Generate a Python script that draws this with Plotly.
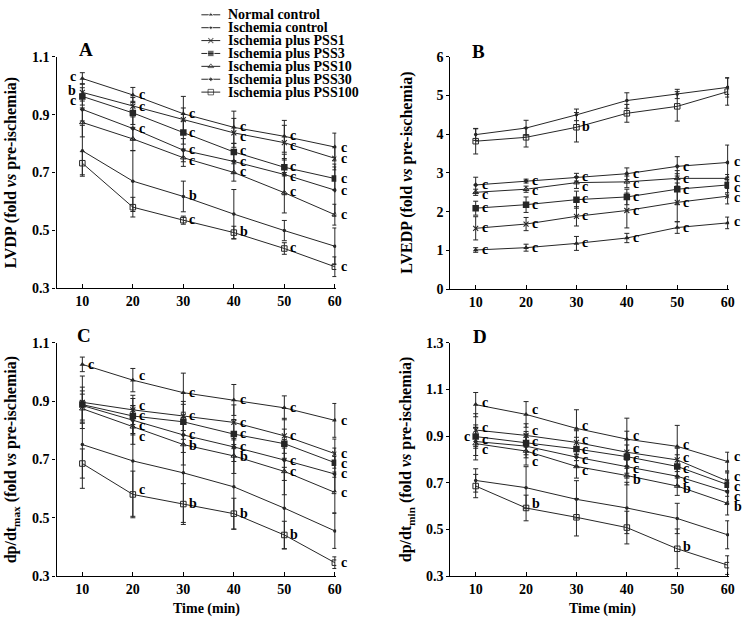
import plotly.graph_objects as go

# ---------------- data ----------------
TIME = [10, 20, 30, 40, 50, 60]
SERIES = ["Normal control", "Ischemia control", "Ischemia plus PSS1", "Ischemia plus PSS3",
          "Ischemia plus PSS10", "Ischemia plus PSS30", "Ischemia plus PSS100"]
KEYS = ["normal", "isch", "pss1", "pss3", "pss10", "pss30", "pss100"]

# Panel A: LVDP
A_NORMAL = [1.025, 0.968, 0.903, 0.856, 0.825, 0.788]
A_ISCH = [0.775, 0.670, 0.617, 0.556, 0.499, 0.445]
A_PSS1 = [0.977, 0.929, 0.883, 0.837, 0.803, 0.749]
A_PSS3 = [0.963, 0.906, 0.838, 0.771, 0.718, 0.679]
A_PSS10 = [0.873, 0.816, 0.751, 0.700, 0.630, 0.554]
A_PSS30 = [0.918, 0.852, 0.777, 0.738, 0.693, 0.639]
A_PSS100 = [0.732, 0.580, 0.535, 0.492, 0.437, 0.374]
A_NORMAL_SD = [0.020, 0.026, 0.060, 0.056, 0.055, 0.048]
A_ISCH_SD = [0.088, 0.105, 0.053, 0.085, 0.035, 0.063]
A_PSS1_SD = [0.030, 0.030, 0.040, 0.050, 0.060, 0.040]
A_PSS3_SD = [0.030, 0.040, 0.040, 0.030, 0.030, 0.040]
A_PSS10_SD = [0.050, 0.040, 0.030, 0.030, 0.070, 0.036]
A_PSS30_SD = [0.040, 0.040, 0.040, 0.040, 0.070, 0.090]
A_PSS100_SD = [0.040, 0.034, 0.014, 0.022, 0.020, 0.034]
A_NORMAL_SIG = ["c", "c", "c", "c", "c", "c"]
A_ISCH_SIG = ["", "", "b", "", "", ""]
A_PSS1_SIG = ["b", "c", "", "c", "c", "c"]
A_PSS3_SIG = ["c", "", "c", "c", "c", "c"]
A_PSS10_SIG = ["", "", "c", "c", "c", "c"]
A_PSS30_SIG = ["", "c", "c", "c", "c", "c"]
A_PSS100_SIG = ["", "", "c", "b", "c", "c"]

# Panel B: LVEDP
B_NORMAL = [1.01, 1.07, 1.18, 1.32, 1.59, 1.71]
B_ISCH = [3.99, 4.16, 4.50, 4.87, 5.04, 5.21]
B_PSS1 = [1.57, 1.68, 1.88, 2.03, 2.24, 2.40]
B_PSS3 = [2.09, 2.18, 2.31, 2.38, 2.58, 2.69]
B_PSS10 = [2.50, 2.58, 2.75, 2.77, 2.86, 2.86]
B_PSS30 = [2.69, 2.79, 2.89, 2.98, 3.17, 3.27]
B_PSS100 = [3.82, 3.92, 4.18, 4.54, 4.72, 5.10]
B_NORMAL_SD = [0.06, 0.09, 0.18, 0.12, 0.15, 0.15]
B_ISCH_SD = [0.15, 0.20, 0.15, 0.20, 0.12, 0.25]
B_PSS1_SD = [0.30, 0.17, 0.25, 0.45, 0.50, 0.20]
B_PSS3_SD = [0.18, 0.20, 0.22, 0.20, 0.40, 0.20]
B_PSS10_SD = [0.08, 0.08, 0.15, 0.15, 0.20, 0.10]
B_PSS30_SD = [0.20, 0.05, 0.10, 0.15, 0.25, 0.45]
B_PSS100_SD = [0.33, 0.25, 0.38, 0.23, 0.38, 0.35]
B_NORMAL_SIG = ["c", "c", "c", "c", "c", "c"]
B_ISCH_SIG = ["", "", "", "", "", ""]
B_PSS1_SIG = ["c", "c", "c", "c", "c", "c"]
B_PSS3_SIG = ["c", "c", "c", "c", "c", "c"]
B_PSS10_SIG = ["c", "c", "c", "c", "c", "c"]
B_PSS30_SIG = ["c", "c", "c", "c", "c", "c"]
B_PSS100_SIG = ["", "", "b", "", "", ""]

# Panel C: dp/dt max
C_NORMAL = [1.026, 0.972, 0.929, 0.904, 0.877, 0.834]
C_ISCH = [0.751, 0.695, 0.654, 0.606, 0.533, 0.455]
C_PSS1 = [0.896, 0.870, 0.849, 0.827, 0.781, 0.720]
C_PSS3 = [0.888, 0.849, 0.829, 0.787, 0.754, 0.689]
C_PSS10 = [0.874, 0.812, 0.751, 0.712, 0.659, 0.587]
C_PSS30 = [0.885, 0.834, 0.784, 0.743, 0.698, 0.650]
C_PSS100 = [0.686, 0.580, 0.547, 0.514, 0.441, 0.346]
C_NORMAL_SD = [0.025, 0.040, 0.067, 0.053, 0.041, 0.058]
C_ISCH_SD = [0.150, 0.190, 0.170, 0.145, 0.140, 0.060]
C_PSS1_SD = [0.090, 0.050, 0.050, 0.060, 0.060, 0.050]
C_PSS3_SD = [0.060, 0.060, 0.060, 0.050, 0.050, 0.050]
C_PSS10_SD = [0.050, 0.060, 0.070, 0.060, 0.080, 0.070]
C_PSS30_SD = [0.050, 0.050, 0.060, 0.050, 0.070, 0.060]
C_PSS100_SD = [0.050, 0.080, 0.070, 0.053, 0.047, 0.020]
C_NORMAL_SIG = ["c", "c", "c", "c", "c", "c"]
C_ISCH_SIG = ["", "", "", "", "", ""]
C_PSS1_SIG = ["", "c", "c", "c", "c", "c"]
C_PSS3_SIG = ["", "c", "", "c", "", "c"]
C_PSS10_SIG = ["", "c", "b", "b", "c", "c"]
C_PSS30_SIG = ["", "c", "c", "c", "c", "c"]
C_PSS100_SIG = ["", "c", "b", "b", "b", "c"]

# Panel D: dp/dt min
D_NORMAL = [1.035, 0.993, 0.933, 0.887, 0.856, 0.791]
D_ISCH = [0.710, 0.679, 0.629, 0.592, 0.547, 0.477]
D_PSS1 = [0.926, 0.903, 0.873, 0.831, 0.798, 0.707]
D_PSS3 = [0.898, 0.870, 0.845, 0.812, 0.770, 0.692]
D_PSS10 = [0.868, 0.836, 0.770, 0.731, 0.686, 0.612]
D_PSS30 = [0.877, 0.857, 0.810, 0.770, 0.728, 0.661]
D_PSS100 = [0.686, 0.592, 0.552, 0.508, 0.417, 0.347]
D_NORMAL_SD = [0.052, 0.055, 0.080, 0.090, 0.090, 0.040]
D_ISCH_SD = [0.050, 0.090, 0.080, 0.110, 0.065, 0.060]
D_PSS1_SD = [0.070, 0.050, 0.050, 0.090, 0.050, 0.040]
D_PSS3_SD = [0.050, 0.050, 0.050, 0.050, 0.050, 0.050]
D_PSS10_SD = [0.070, 0.060, 0.050, 0.040, 0.040, 0.050]
D_PSS30_SD = [0.060, 0.050, 0.040, 0.050, 0.040, 0.050]
D_PSS100_SD = [0.050, 0.055, 0.080, 0.070, 0.085, 0.040]
D_NORMAL_SIG = ["c", "c", "c", "c", "c", "c"]
D_ISCH_SIG = ["", "", "", "", "", ""]
D_PSS1_SIG = ["c", "c", "c", "c", "c", "c"]
D_PSS3_SIG = ["c", "c", "c", "c", "c", "c"]
D_PSS10_SIG = ["c", "c", "c", "b", "b", "b"]
D_PSS30_SIG = ["c", "c", "c", "c", "c", "c"]
D_PSS100_SIG = ["", "b", "", "", "b", ""]

# significance labels drawn on the left of their point
LEFT_LABELS = {("A", "normal", 0), ("A", "pss1", 0), ("A", "pss3", 0), ("D", "pss3", 0)}

Y_TICKS_A = [0.3, 0.5, 0.7, 0.9, 1.1]
Y_TICKS_B = [0, 1, 2, 3, 4, 5, 6]
Y_TICKS_C = [0.3, 0.5, 0.7, 0.9, 1.1]
Y_TICKS_D = [0.3, 0.5, 0.7, 0.9, 1.1, 1.3]

g = globals()
PANELS = {}
for p in "ABCD":
    PANELS[p] = {k: (g[f"{p}_{k.upper()}"], g[f"{p}_{k.upper()}_SD"], g[f"{p}_{k.upper()}_SIG"]) for k in KEYS}

# ---------------- style / layout ----------------
W, H = 752, 629
FONT = "Liberation Serif"
INK = "#262626"

MARKERS = {
    "normal": dict(symbol="triangle-up", size=5),
    "isch": dict(symbol="circle", size=3.5),
    "pss1": dict(symbol="x-thin-open", size=5, line=dict(width=1.1, color=INK)),
    "pss3": dict(symbol="square", size=6.5),
    "pss10": dict(symbol="triangle-up-open", size=5, line=dict(width=1, color=INK)),
    "pss30": dict(symbol="diamond", size=4),
    "pss100": dict(symbol="square-open", size=5.5, line=dict(width=1, color=INK)),
}

def px_x(v):
    return v / W

def px_y(v):
    return 1 - v / H

# pixel boxes: (left, right, top, bottom)
BOX = {"A": (57, 339, 51, 288), "B": (454, 735, 51, 289),
       "C": (57, 339, 344, 583), "D": (454, 735, 344, 583)}
XRANGE = {"A": [4.89, 60.29], "B": [4.98, 60.3], "C": [4.89, 60.29], "D": [4.98, 60.3]}
YRANGE = {"A": [0.3, 1.1], "B": [0, 6], "C": [0.3, 1.1], "D": [0.3, 1.3]}
YTICKS = {"A": Y_TICKS_A, "B": Y_TICKS_B, "C": Y_TICKS_C, "D": Y_TICKS_D}
AXN = {"A": "", "B": "2", "C": "3", "D": "4"}
LABEL_GAP = 10.5  # min vertical spacing (px) between stacked significance letters

fig = go.Figure()
annotations = []

for p in "ABCD":
    n = AXN[p]
    l, r, t, b = BOX[p]
    y0, y1 = YRANGE[p]
    groups = {}
    for k in KEYS:
        vals, sd, sig = PANELS[p][k]
        fig.add_trace(go.Scatter(
            x=TIME, y=vals, mode="lines+markers",
            xaxis="x" + n, yaxis="y" + n, showlegend=False,
            line=dict(color=INK, width=1),
            marker=dict(color=INK, **MARKERS[k]),
            error_y=dict(type="data", array=sd, color=INK, thickness=1, width=2.5),
        ))
        for i, (tt, v, s) in enumerate(zip(TIME, vals, sig)):
            if s:
                left = (p, k, i) in LEFT_LABELS
                pix = t + (y1 - v) / (y1 - y0) * (b - t)
                groups.setdefault((i, left), []).append([pix, tt, v, s])
    # spread labels that would overlap, keeping the group centred
    for (i, left), items in groups.items():
        items.sort(key=lambda it: it[0])
        orig = [it[0] for it in items]
        pos = orig[:]
        for j in range(1, len(pos)):
            if pos[j] - pos[j - 1] < LABEL_GAP:
                pos[j] = pos[j - 1] + LABEL_GAP
        # recentre clusters
        shift = sum(o - q for o, q in zip(orig, pos)) / len(pos)
        if any(abs(o - q) > 0.1 for o, q in zip(orig, pos)):
            pos = [q + shift for q in pos]
            # don't push the top label above its own point by more than needed
        for it, q in zip(items, pos):
            pix, tt, v, s = it
            annotations.append(dict(
                x=tt, y=v, xref="x" + n, yref="y" + n, text=s, showarrow=False,
                xanchor="right" if left else "left", xshift=-4 if left else 4,
                yshift=-(q - pix),
                font=dict(size=14, family=FONT, weight="bold", color="black")))

axis_common = dict(showgrid=False, zeroline=False, showline=True, linecolor="black",
                   linewidth=1.3, mirror=False, ticks="outside", tickcolor="black",
                   tickwidth=1, tickfont=dict(size=14, family=FONT, weight="bold", color="black"))
for p in "ABCD":
    n = AXN[p]
    l, r, t, b = BOX[p]
    fig.update_layout(**{
        "xaxis" + n: dict(axis_common, domain=[px_x(l), px_x(r)], range=XRANGE[p],
                          tickvals=TIME, ticks="inside", ticklen=4,
                          anchor="y" + n),
        "yaxis" + n: dict(axis_common, domain=[px_y(b), px_y(t)], range=YRANGE[p],
                          tickvals=YTICKS[p], ticklen=3, anchor="x" + n,
                          tickformat=".1f" if p != "B" else "d"),
    })

# overlay axis in pixel coordinates for the legend keys
fig.update_layout(
    xaxis5=dict(domain=[0, 1], range=[0, W], visible=False, anchor="y5"),
    yaxis5=dict(domain=[0, 1], range=[H, 0], visible=False, anchor="x5"),
)
LEG_X0, LEG_X1, LEG_Y0, LEG_DY = 203, 222, 8, 13.2
for i, (k, name) in enumerate(zip(KEYS, SERIES)):
    yy = LEG_Y0 + LEG_DY * i
    mk = dict(MARKERS[k])
    mk["size"] = [0, mk["size"], 0]
    fig.add_trace(go.Scatter(
        x=[LEG_X0, (LEG_X0 + LEG_X1) / 2, LEG_X1], y=[yy, yy, yy],
        xaxis="x5", yaxis="y5", mode="lines+markers", showlegend=False,
        line=dict(color=INK, width=1), marker=dict(color=INK, **mk), hoverinfo="skip"))
    annotations.append(dict(x=px_x(228), y=px_y(yy), xref="paper", yref="paper",
                            text=name, showarrow=False, xanchor="left", yanchor="middle",
                            font=dict(size=14, family=FONT, weight="bold", color="black")))

# panel letters
for p, (xx, yy) in {"A": (87, 44), "B": (482, 46), "C": (85, 337), "D": (484, 338)}.items():
    annotations.append(dict(x=px_x(xx), y=px_y(yy), xref="paper", yref="paper", text=p,
                            showarrow=False, xanchor="center", yanchor="middle",
                            font=dict(size=19, family=FONT, weight="bold", color="black")))

# axis titles
YTITLES = {
    "A": ("LVDP (fold <i>vs</i> pre-ischemia)", 12),
    "B": ("LVEDP (fold <i>vs</i> pre-ischemia)", 410),
    "C": ("dp/dt<sub>max</sub> (fold <i>vs</i> pre-ischemia)", 12),
    "D": ("dp/dt<sub>min</sub> (fold <i>vs</i> pre-ischemia)", 410),
}
for p, (txt, xx) in YTITLES.items():
    l, r, t, b = BOX[p]
    annotations.append(dict(x=px_x(xx), y=px_y((t + b) / 2), xref="paper", yref="paper",
                            text=txt, textangle=-90, showarrow=False,
                            xanchor="center", yanchor="middle",
                            font=dict(size=16, family=FONT, weight="bold", color="black")))
for xx in (208, 607):
    annotations.append(dict(x=px_x(xx), y=px_y(617), xref="paper", yref="paper",
                            text="Time (min)", showarrow=False, xanchor="center", yanchor="middle",
                            font=dict(size=14, family=FONT, weight="bold", color="black")))

fig.update_layout(
    width=W, height=H, margin=dict(l=0, r=0, t=0, b=0),
    paper_bgcolor="white", plot_bgcolor="rgba(0,0,0,0)",
    font=dict(family=FONT, size=14, color="black", weight="bold"),
    annotations=annotations, showlegend=False,
)

fig.write_html("out.html", config={"displayModeBar": False},
               post_script="document.body.style.margin='0';document.body.style.padding='0';")
